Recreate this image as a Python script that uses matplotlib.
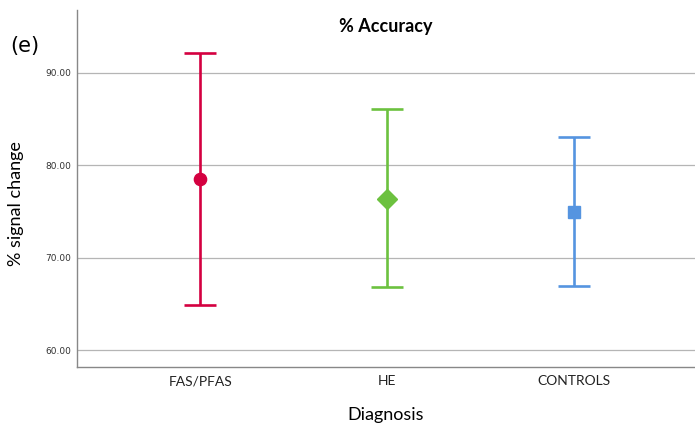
import matplotlib
matplotlib.use("Agg")
import matplotlib.pyplot as plt

categories = ["FAS/PFAS", "HE", "CONTROLS"]
means = [78.5, 76.4, 75.0]
upper = [92.1, 86.1, 83.1]
lower = [64.9, 66.9, 67.0]
colors = ["#d40040", "#6cc13f", "#5594e0"]
markers = ["o", "D", "s"]
yticks = [60, 70, 80, 90]

fig = plt.figure(figsize=(6.95, 4.30), dpi=100)
ax = fig.add_axes([0.1108, 0.1465, 0.8892, 0.8302])

for i, (c, m, lo, hi, col, mk) in enumerate(zip(categories, means, lower, upper, colors, markers)):
    ax.errorbar([i], [m], yerr=[[m - lo], [hi - m]], fmt=mk, color=col, ecolor=col,
                elinewidth=1.9, capsize=11.5, capthick=1.9,
                markersize=8.8 if mk != "D" else 10.5, zorder=3)

ax.set_xlim(-0.66, 2.65)
ax.set_ylim(58.2, 96.8)
ax.set_yticks(yticks)
ax.set_yticklabels([f"{v:.2f}" for v in yticks], fontsize=6.5, color="#333333")
ax.set_xticks(range(len(categories)))
ax.set_xticklabels(categories, fontsize=10, family="Lato", color="#222222")
ax.tick_params(axis="y", length=0, pad=4)
ax.tick_params(axis="x", length=0, pad=6)
ax.grid(axis="y", color="#b5b5b5", linewidth=0.9)
ax.set_axisbelow(True)
for s in ["top", "right"]:
    ax.spines[s].set_visible(False)
for s in ["left", "bottom"]:
    ax.spines[s].set_color("#888888")
    ax.spines[s].set_linewidth(1.0)

ax.set_xlabel("Diagnosis", fontsize=13, family="Lato")
ax.xaxis.set_label_coords(0.5, -0.112)
ax.set_ylabel("% signal change", fontsize=13, family="Lato")
ax.yaxis.set_label_coords(-0.086, 0.459)
ax.text(0.5, 0.955, "% Accuracy", transform=ax.transAxes, ha="center", va="center",
        fontsize=13, family="Lato", fontweight="bold")
fig.text(0.035, 0.893, "(e)", fontsize=15, family="DejaVu Sans", ha="center", va="center")

fig.savefig("out.png", dpi=100)
